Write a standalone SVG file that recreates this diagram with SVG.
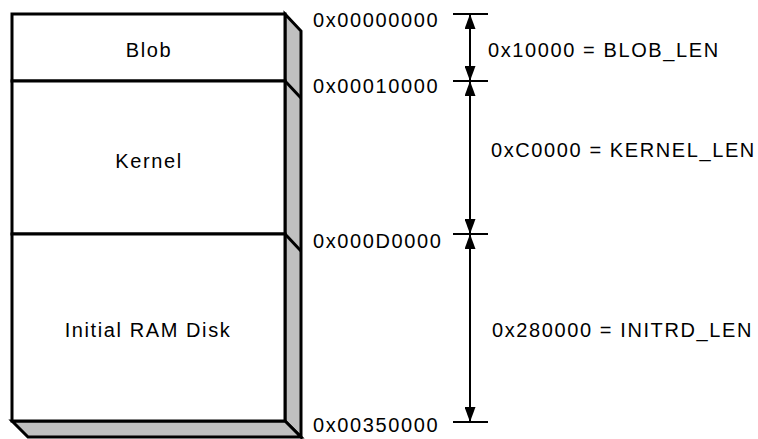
<svg xmlns="http://www.w3.org/2000/svg" width="758" height="439" viewBox="0 0 758 439">
<style>
text{font-family:"Liberation Sans",Arial,sans-serif;font-size:20px;letter-spacing:1.6px;fill:#000}
.box{fill:#fff;stroke:#000;stroke-width:3}
.side{fill:#c0c0c0;stroke:#000;stroke-width:3;stroke-linejoin:miter}
.edge{stroke:#000;stroke-width:3;fill:none}
.tick{stroke:#000;stroke-width:2;fill:none}
.dim{stroke:#000;stroke-width:2;fill:none}
</style>
<defs>
<marker id="ah" viewBox="0 0 15 11" refX="15" refY="5.5" markerWidth="15" markerHeight="11" markerUnits="userSpaceOnUse" orient="auto-start-reverse">
<path d="M0,0 L15,5.5 L0,11 Z" fill="#000"/>
</marker>
</defs>
<g id="block3d">
<polygon class="side" points="285,14 301,31 301,437 285,421"/>
<polygon class="side" points="12,421 285,421 301,437 28,437"/>
<line class="edge" x1="285" y1="81" x2="301" y2="98"/>
<line class="edge" x1="285" y1="234" x2="301" y2="251"/>
</g>
<g id="blob">
<rect class="box" x="12" y="14" width="273" height="67"/>
<text x="149" y="57" text-anchor="middle">Blob</text>
</g>
<g id="kernel">
<rect class="box" x="12" y="81" width="273" height="153"/>
<text x="149" y="168" text-anchor="middle">Kernel</text>
</g>
<g id="initrd">
<rect class="box" x="12" y="234" width="273" height="187"/>
<text x="148" y="337" text-anchor="middle">Initial RAM Disk</text>
</g>
<g id="addresses">
<text x="313" y="27">0x00000000</text>
<text x="313" y="93">0x00010000</text>
<text x="313" y="248">0x000D0000</text>
<text x="313" y="432">0x00350000</text>
</g>
<g id="connectors">
<line class="tick" x1="453" y1="14" x2="488" y2="14"/>
<line class="tick" x1="453" y1="81" x2="488" y2="81"/>
<line class="tick" x1="453" y1="234" x2="488" y2="234"/>
<line class="tick" x1="453" y1="422" x2="488" y2="422"/>
<line class="dim" x1="470" y1="14" x2="470" y2="81" marker-start="url(#ah)" marker-end="url(#ah)"/>
<line class="dim" x1="470" y1="81" x2="470" y2="234" marker-start="url(#ah)" marker-end="url(#ah)"/>
<line class="dim" x1="470" y1="234" x2="470" y2="422" marker-start="url(#ah)" marker-end="url(#ah)"/>
</g>
<g id="lengths">
<text x="488" y="57">0x10000 = BLOB_LEN</text>
<text x="491" y="157">0xC0000 = KERNEL_LEN</text>
<text x="492" y="337">0x280000 = INITRD_LEN</text>
</g>
</svg>
